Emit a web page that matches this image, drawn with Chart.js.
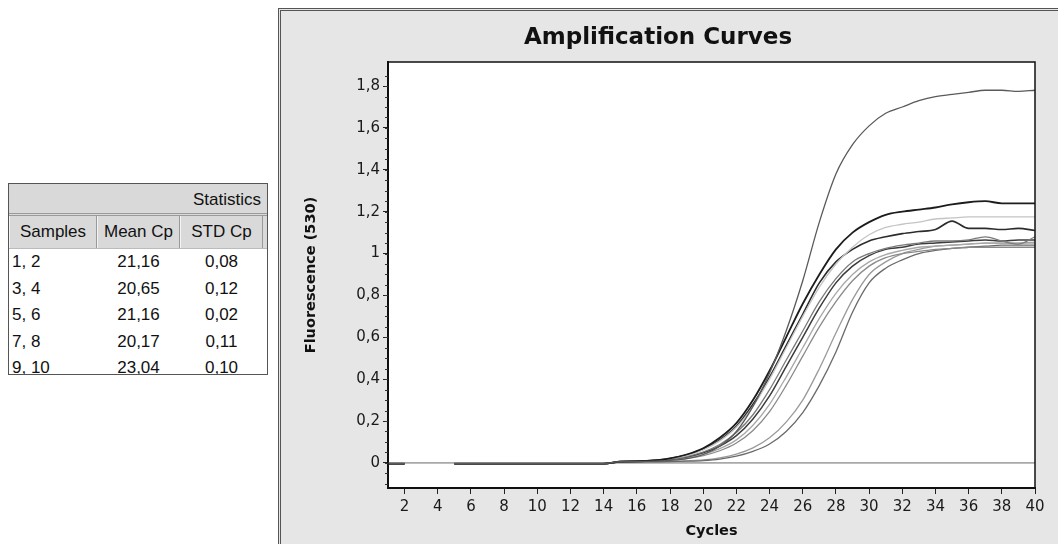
<!DOCTYPE html>
<html>
<head>
<meta charset="utf-8">
<script src="https://cdn.jsdelivr.net/npm/chart.js@4/dist/chart.umd.min.js"></script>
<style>
    body { margin: 0; width: 1058px; height: 544px; background: #fff; overflow: hidden; font-family: "Liberation Sans", Arial, sans-serif; }
    #stats { position: absolute; left: 8px; top: 183px; width: 260px; height: 192px; border: 1px solid #555; box-sizing: border-box; overflow: hidden; background: #fff; color: #111; font-size: 17px; }
    #stats .cap { height: 29px; line-height: 31px; background: #d9d9d9; text-align: right; padding-right: 6px; border-bottom: 3px double #9a9a9a; }
    #stats .row { display: flex; height: 26.6px; line-height: 26.6px; }
    #stats .head { height: 32px; line-height: 32px; background: #d9d9d9; border-bottom: 1px solid #bbb; }
    #stats .head div { border-right: 1px solid #999; border-left: 1px solid #f4f4f4; box-sizing: border-box; }
    #stats .c1 { width: 88px; padding-left: 3px; box-sizing: border-box; }
    #stats .c2 { width: 83px; text-align: center; }
    #stats .c3 { width: 83px; text-align: center; }
    #stats .head .c1 { text-align: center; padding-left: 0; }
    #panel { position: absolute; left: 278px; top: 8px; width: 780px; height: 536px; border-left: 3px double #555; border-top: 3px double #555; background: #e6e6e6; box-sizing: border-box; }
    #wrap { position: absolute; left: 0; top: 0; width: 777px; height: 533px; }
</style>
</head>
<body>
<div id="stats"></div>
<div id="panel"><div id="wrap"><canvas id="chart"></canvas></div></div>
<script>
const statSamples = ['1, 2', '3, 4', '5, 6', '7, 8', '9, 10'];
const statMeanCp = ['21,16', '20,65', '21,16', '20,17', '23,04'];
const statStdCp = ['0,08', '0,12', '0,02', '0,11', '0,10'];

const cycles = [1, 2, 3, 4, 5, 6, 7, 8, 9, 10, 11, 12, 13, 14, 15, 16, 17, 18, 19, 20,
    21, 22, 23, 24, 25, 26, 27, 28, 29, 30, 31, 32, 33, 34, 35, 36, 37, 38, 39, 40];
const xTicks = [2, 4, 6, 8, 10, 12, 14, 16, 18, 20, 22, 24, 26, 28, 30, 32, 34, 36, 38, 40];
const yTicks = [0, 0.2, 0.4, 0.6, 0.8, 1, 1.2, 1.4, 1.6, 1.8];
const thresholdValue = 0;

// cycles 1-14 are flat baseline, gap at 3-4 where only the threshold line shows
const s1 = [-0.004, -0.004, null, null, -0.004, -0.004, -0.004, -0.004, -0.004, -0.004, -0.004, -0.004, -0.004, -0.004,
    0.006, 0.006, 0.008, 0.012, 0.02, 0.04, 0.08, 0.15, 0.27, 0.43, 0.63, 0.87, 1.15, 1.38, 1.52, 1.61,
    1.67, 1.70, 1.73, 1.75, 1.76, 1.77, 1.78, 1.78, 1.775, 1.78];
const s2 = [-0.004, -0.004, null, null, -0.004, -0.004, -0.004, -0.004, -0.004, -0.004, -0.004, -0.004, -0.004, -0.004,
    0.006, 0.008, 0.012, 0.022, 0.04, 0.07, 0.12, 0.19, 0.30, 0.44, 0.60, 0.76, 0.90, 1.02, 1.10, 1.15,
    1.185, 1.20, 1.21, 1.22, 1.235, 1.245, 1.25, 1.24, 1.24, 1.24];
const s3 = [-0.004, -0.004, null, null, -0.004, -0.004, -0.004, -0.004, -0.004, -0.004, -0.004, -0.004, -0.004, -0.004,
    0.006, 0.008, 0.011, 0.02, 0.035, 0.062, 0.105, 0.17, 0.27, 0.40, 0.55, 0.70, 0.84, 0.95, 1.03, 1.09,
    1.125, 1.14, 1.15, 1.165, 1.17, 1.175, 1.175, 1.175, 1.175, 1.175];
const s4 = [-0.004, -0.004, null, null, -0.004, -0.004, -0.004, -0.004, -0.004, -0.004, -0.004, -0.004, -0.004, -0.004,
    0.006, 0.008, 0.012, 0.021, 0.038, 0.066, 0.11, 0.175, 0.28, 0.41, 0.56, 0.71, 0.86, 0.96, 1.02, 1.06,
    1.08, 1.095, 1.105, 1.115, 1.155, 1.12, 1.12, 1.115, 1.12, 1.11];
const s5 = [-0.004, -0.004, null, null, -0.004, -0.004, -0.004, -0.004, -0.004, -0.004, -0.004, -0.004, -0.004, -0.004,
    0.006, 0.007, 0.01, 0.017, 0.03, 0.052, 0.088, 0.145, 0.23, 0.35, 0.49, 0.63, 0.77, 0.88, 0.96, 1.0,
    1.025, 1.04, 1.05, 1.06, 1.06, 1.065, 1.08, 1.06, 1.045, 1.08];
const s6 = [-0.004, -0.004, null, null, -0.004, -0.004, -0.004, -0.004, -0.004, -0.004, -0.004, -0.004, -0.004, -0.004,
    0.006, 0.007, 0.01, 0.016, 0.028, 0.048, 0.08, 0.13, 0.21, 0.32, 0.46, 0.60, 0.74, 0.86, 0.94, 0.99,
    1.02, 1.03, 1.045, 1.05, 1.055, 1.06, 1.065, 1.06, 1.065, 1.065];
const s7 = [-0.004, -0.004, null, null, -0.004, -0.004, -0.004, -0.004, -0.004, -0.004, -0.004, -0.004, -0.004, -0.004,
    0.006, 0.007, 0.009, 0.014, 0.024, 0.04, 0.068, 0.11, 0.18, 0.28, 0.41, 0.55, 0.69, 0.81, 0.90, 0.96,
    0.995, 1.015, 1.03, 1.035, 1.04, 1.045, 1.05, 1.05, 1.05, 1.05];
const s8 = [-0.004, -0.004, null, null, -0.004, -0.004, -0.004, -0.004, -0.004, -0.004, -0.004, -0.004, -0.004, -0.004,
    0.006, 0.007, 0.009, 0.013, 0.021, 0.035, 0.058, 0.095, 0.155, 0.245, 0.37, 0.51, 0.65, 0.77, 0.87, 0.94,
    0.98, 1.0, 1.01, 1.02, 1.025, 1.03, 1.03, 1.03, 1.03, 1.03];
const s9 = [-0.004, -0.004, null, null, -0.004, -0.004, -0.004, -0.004, -0.004, -0.004, -0.004, -0.004, -0.004, -0.004,
    0.004, 0.004, 0.005, 0.006, 0.008, 0.011, 0.018, 0.032, 0.055, 0.09, 0.15, 0.24, 0.37, 0.53, 0.72, 0.86,
    0.93, 0.97, 1.0, 1.015, 1.025, 1.03, 1.035, 1.04, 1.04, 1.04];
const s10 = [-0.004, -0.004, null, null, -0.004, -0.004, -0.004, -0.004, -0.004, -0.004, -0.004, -0.004, -0.004, -0.004,
    0.004, 0.005, 0.006, 0.007, 0.01, 0.014, 0.024, 0.042, 0.072, 0.12, 0.195, 0.30, 0.45, 0.62, 0.78, 0.90,
    0.96, 1.0, 1.02, 1.035, 1.04, 1.045, 1.05, 1.05, 1.05, 1.055];

const seriesValues = [s1, s2, s3, s4, s5, s6, s7, s8, s9, s10];
const seriesColors = ['#5a5a5a', '#1c1c1c', '#c4c4c4', '#2c2c2c', '#7a7a7a', '#3c3c3c', '#a8a8a8', '#8a8a8a', '#6a6a6a', '#9a9a9a'];
const seriesWidths = [1.3, 1.8, 1.3, 1.6, 1.3, 1.5, 1.3, 1.3, 1.3, 1.3];

function fillTable() {
    const box = document.getElementById('stats');
    let html = '<div class="cap">Statistics</div>';
    html += '<div class="row head"><div class="c1">Samples</div><div class="c2">Mean Cp</div><div class="c3">STD Cp</div></div>';
    statSamples.forEach((s, i) => {
        html += `<div class="row"><div class="c1">${s}</div><div class="c2">${statMeanCp[i]}</div><div class="c3">${statStdCp[i]}</div></div>`;
    });
    box.innerHTML = html;
}

function toPoints(values) {
    return cycles.map((c, i) => ({ x: c, y: values[i] }));
}

const plotFrame = {
    id: 'plotFrame',
    beforeDraw(chart) {
        const { ctx, chartArea: a } = chart;
        ctx.save();
        ctx.fillStyle = '#fff';
        ctx.fillRect(a.left, a.top, a.right - a.left, a.bottom - a.top);
        ctx.restore();
    },
    afterDraw(chart) {
        const { ctx, chartArea: a } = chart;
        const y = chart.scales.y;
        ctx.save();
        ctx.strokeStyle = '#111';
        ctx.lineWidth = 1.5;
        ctx.strokeRect(a.left, a.top, a.right - a.left, a.bottom - a.top);
        // minor ticks on the y axis
        ctx.lineWidth = 1;
        ctx.strokeStyle = '#333';
        for (let v = -0.1; v < 1.9; v += 0.05) {
            const py = Math.round(y.getPixelForValue(v)) + 0.5;
            ctx.beginPath();
            ctx.moveTo(a.left - 3, py);
            ctx.lineTo(a.left, py);
            ctx.stroke();
        }
        ctx.restore();
    }
};

function drawChart() {
    const datasets = seriesValues.map((vals, i) => ({
        data: toPoints(vals),
        borderColor: seriesColors[i],
        borderWidth: seriesWidths[i],
        pointRadius: 0,
        cubicInterpolationMode: 'monotone',
        spanGaps: false
    }));
    datasets.push({
        data: [{ x: cycles[0], y: thresholdValue }, { x: cycles[cycles.length - 1], y: thresholdValue }],
        borderColor: '#a9a9a9',
        borderWidth: 1.6,
        pointRadius: 0
    });

    new Chart(document.getElementById('chart'), {
        type: 'line',
        data: { datasets: datasets },
        options: {
            responsive: true,
            maintainAspectRatio: false,
            animation: false,
            layout: { padding: { left: 0, right: 23, top: 0, bottom: 0 } },
            plugins: {
                legend: { display: false },
                tooltip: { enabled: false },
                title: {
                    display: true,
                    text: 'Amplification Curves',
                    color: '#111',
                    font: { family: 'DejaVu Sans', size: 23, weight: 'bold' },
                    padding: { top: 13.2, bottom: 10.2 }
                }
            },
            scales: {
                x: {
                    type: 'linear',
                    min: 1,
                    max: 40,
                    afterBuildTicks: s => { s.ticks = xTicks.map(v => ({ value: v })); },
                    afterFit: s => { s.height = 56; },
                    grid: { drawOnChartArea: false, tickLength: 6, color: '#222', tickWidth: 1 },
                    border: { color: '#111', width: 2 },
                    ticks: { color: '#1a1a1a', padding: 4, font: { family: 'DejaVu Sans', size: 15 } },
                    title: {
                        display: true,
                        text: 'Cycles',
                        color: '#111',
                        font: { family: 'DejaVu Sans', size: 14.5, weight: 'bold' },
                        padding: { top: 0, bottom: 4.3 }
                    }
                },
                y: {
                    min: -0.12,
                    max: 1.915,
                    afterBuildTicks: s => { s.ticks = yTicks.map(v => ({ value: v })); },
                    afterFit: s => { s.width = 107; },
                    grid: { drawOnChartArea: false, tickLength: 5, color: '#222', tickWidth: 1 },
                    border: { color: '#111', width: 2 },
                    ticks: {
                        color: '#1a1a1a',
                        padding: 3,
                        font: { family: 'DejaVu Sans', size: 15 },
                        callback: v => String(v).replace('.', ',')
                    },
                    title: {
                        display: true,
                        text: 'Fluorescence (530)',
                        color: '#111',
                        font: { family: 'DejaVu Sans', size: 14.5, weight: 'bold' },
                        padding: { top: 21.3, bottom: 0 }
                    }
                }
            }
        },
        plugins: [plotFrame]
    });
}

fillTable();
drawChart();
</script>
</body>
</html>
